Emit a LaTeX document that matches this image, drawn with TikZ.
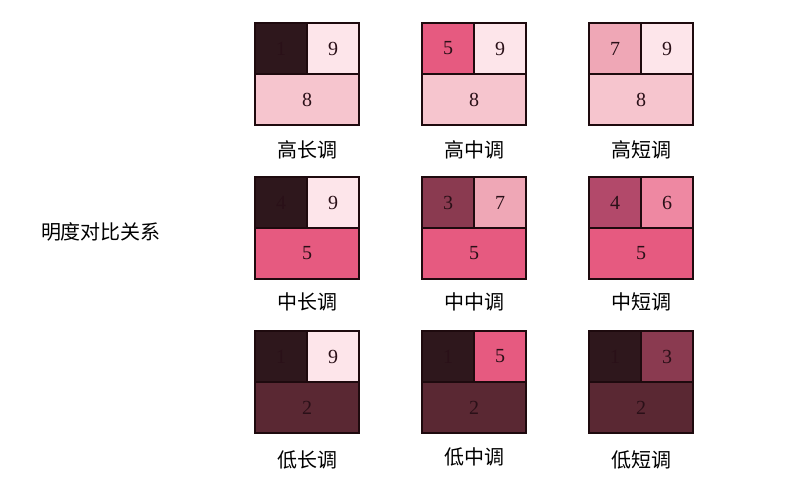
\documentclass[tikz,border=0pt]{standalone}
\usepackage{fontspec}
\setmainfont{Liberation Serif}
\newfontfamily\cjk{Noto Sans CJK SC}
\usetikzlibrary{positioning}

% value scale 1 (dark) .. 9 (light)
\definecolor{v1}{HTML}{2E171C}
\definecolor{v2}{HTML}{5A2833}
\definecolor{v3}{HTML}{8A3A50}
\definecolor{v4}{HTML}{B2496A}
\definecolor{v5}{HTML}{E65A80}
\definecolor{v6}{HTML}{EE88A2}
\definecolor{v7}{HTML}{EFA7B6}
\definecolor{v8}{HTML}{F6C5CE}
\definecolor{v9}{HTML}{FDE5EA}
\definecolor{edge}{HTML}{1E0A0E}
\definecolor{digit}{HTML}{2A1018}

\begin{document}
\begin{tikzpicture}[x=1pt,y=-1pt,
    cell/.style={draw=edge, line width=2.2pt, fill=#1, inner sep=0pt,
      outer sep=0pt, minimum width=52pt, minimum height=51pt,
      anchor=north west, text=digit, font=\fontsize{20}{20}\selectfont},
    wide/.style={cell=#1, minimum width=104pt},
    tone/.style={font=\cjk\fontsize{20}{20}\selectfont}]
    \useasboundingbox (0,0) rectangle (793,483);

    \node[tone] (title) at (101,232) {明度对比关系};

    % swatches: name / x / y / top left / top right / bottom / label / label y
    \foreach \n/\x/\y/\a/\ta/\b/\c/\lab/\ly in {
        hl/255/23/1/1/9/8/高长调/150,
        hm/422/23/5/5/9/8/高中调/150,
        hs/589/23/7/7/9/8/高短调/150,
        ml/255/177/1/4/9/5/中长调/302,
        mm/422/177/3/3/7/5/中中调/302,
        ms/589/177/4/4/6/5/中短调/302,
        ll/255/331/1/1/9/2/低长调/460,
        lm/422/331/1/1/5/2/低中调/457,
        ls/589/331/1/1/3/2/低短调/460}{
      \node[cell=v\a] (\n-a) at (\x,\y) {\ta};
      \node[cell=v\b, right=0pt of \n-a] (\n-b) {\b};
      \node[wide=v\c, below right=0pt and 0pt of \n-a.south west] (\n-c) {\c};
      \node[tone] (\n-lab) at (\x+52,\ly) {\lab};
    }
\end{tikzpicture}
\end{document}
